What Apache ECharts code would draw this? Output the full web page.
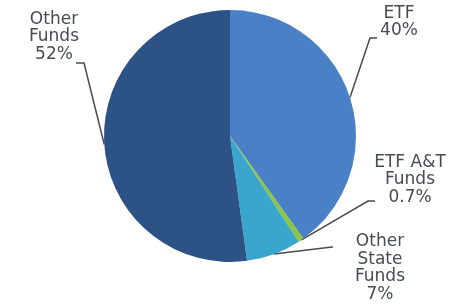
<!DOCTYPE html>
<html>
<head>
<meta charset="utf-8">
<script src="https://cdn.jsdelivr.net/npm/echarts@6/dist/echarts.min.js"></script>
<style>
  html, body { margin: 0; padding: 0; background: #fff; }
  #chart { width: 454px; height: 304px; }
</style>
</head>
<body>
<div id="chart"></div>
<script>
// 饼图数据（顺时针，从12点方向开始）
const names = ['ETF', 'ETF A&T\nFunds', 'Other\nState\nFunds', 'Other\nFunds']
const values = [40, 0.7, 7, 52]
const labelsPct = ['40%', '0.7%', '7%', '52%']
const colors = ['#4a80c6', '#8cc63f', '#3aa5cd', '#2c5286']

// 标签位置 [文字中心x, 文字中心y, 折点x, 折点y, 末端x, 末端y]
const labelPos = [
  [399, 22, 370, 38, 377, 38],
  [410, 180, 368, 201, 375, 201],
  [380, 268, 332, 247, 333, 247],
  [54, 37, 84, 63, 76, 63],
]

const myChart = echarts.init(document.getElementById('chart'))

let option = {
  animation: false,
  series: [
    {
      type: 'pie',
      center: [230, 136],
      radius: 126,
      startAngle: 90,
      clockwise: true,
      avoidLabelOverlap: false,
      data: values.map((v, i) => ({
        value: v,
        name: names[i],
        itemStyle: { color: colors[i] },
      })),
      label: {
        position: 'outside',
        formatter: (p) => names[p.dataIndex] + '\n' + labelsPct[p.dataIndex],
        color: '#464c53',
        fontFamily: 'DejaVu Sans',
        fontSize: 17,
        lineHeight: 17.5,
        align: 'center',
      },
      labelLine: {
        show: true,
        length: 10,
        length2: 10,
        lineStyle: { color: '#464b50', width: 1.5 },
      },
      labelLayout: function (params) {
        const p = labelPos[params.dataIndex]
        const a = params.labelLinePoints[0]
        return {
          x: p[0],
          y: p[1],
          align: 'center',
          verticalAlign: 'middle',
          labelLinePoints: [a, [p[2], p[3]], [p[4], p[5]]],
        }
      },
    },
  ],
}
myChart.setOption(option)

window.addEventListener('resize', function () {
  myChart.resize()
})
</script>
</body>
</html>
